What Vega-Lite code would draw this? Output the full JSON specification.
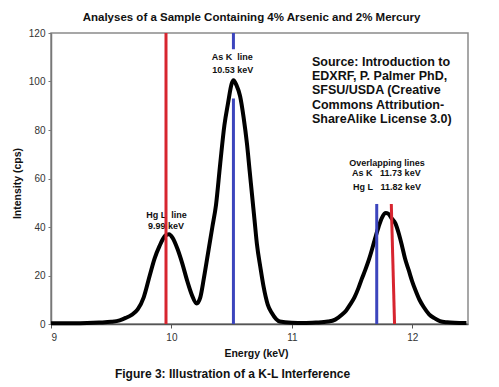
{
  "$schema": "https://vega.github.io/schema/vega-lite/v6.json",
  "width": 417,
  "height": 291,
  "autosize": {"type": "none"},
  "padding": {"left": 51, "top": 33, "right": 31, "bottom": 63},
  "background": "white",
  "config": {
    "view": {"stroke": "#8a8a8a", "strokeWidth": 1.5},
    "font": "Liberation Sans"
  },
  "title": {
    "text": "Figure 3: Illustration of a K-L Interference",
    "orient": "bottom",
    "anchor": "middle",
    "frame": "group",
    "font": "Liberation Sans",
    "fontSize": 12,
    "fontWeight": "bold",
    "color": "#111111",
    "offset": 10,
    "dx": -27
  },
  "datasets": {
    "spectrum": [
      {"energy": 9.0, "intensity": 0.3},
      {"energy": 9.1, "intensity": 0.3},
      {"energy": 9.2, "intensity": 0.3},
      {"energy": 9.3, "intensity": 0.4},
      {"energy": 9.4, "intensity": 0.6},
      {"energy": 9.5, "intensity": 0.9},
      {"energy": 9.57, "intensity": 1.5},
      {"energy": 9.62, "intensity": 2.5},
      {"energy": 9.67, "intensity": 3.8},
      {"energy": 9.72, "intensity": 6},
      {"energy": 9.77, "intensity": 11},
      {"energy": 9.82, "intensity": 20},
      {"energy": 9.86, "intensity": 27},
      {"energy": 9.9, "intensity": 32},
      {"energy": 9.95, "intensity": 36.5},
      {"energy": 9.98, "intensity": 37},
      {"energy": 10.01, "intensity": 35.5},
      {"energy": 10.05, "intensity": 31},
      {"energy": 10.09, "intensity": 25},
      {"energy": 10.13, "intensity": 18},
      {"energy": 10.17, "intensity": 12},
      {"energy": 10.21, "intensity": 8.5},
      {"energy": 10.24, "intensity": 11},
      {"energy": 10.27, "intensity": 19},
      {"energy": 10.31, "intensity": 31},
      {"energy": 10.34, "intensity": 40},
      {"energy": 10.37, "intensity": 49},
      {"energy": 10.405, "intensity": 66},
      {"energy": 10.44, "intensity": 82},
      {"energy": 10.47, "intensity": 91},
      {"energy": 10.5, "intensity": 99},
      {"energy": 10.515, "intensity": 100.5},
      {"energy": 10.54, "intensity": 98.5},
      {"energy": 10.57, "intensity": 94},
      {"energy": 10.6, "intensity": 85},
      {"energy": 10.627, "intensity": 74.5},
      {"energy": 10.65, "intensity": 63},
      {"energy": 10.67, "intensity": 53},
      {"energy": 10.69, "intensity": 43},
      {"energy": 10.71, "intensity": 33},
      {"energy": 10.74, "intensity": 23},
      {"energy": 10.765, "intensity": 15.5},
      {"energy": 10.8, "intensity": 8},
      {"energy": 10.834, "intensity": 4.5},
      {"energy": 10.87, "intensity": 2},
      {"energy": 10.9, "intensity": 1},
      {"energy": 11.0, "intensity": 0.5},
      {"energy": 11.1, "intensity": 0.4},
      {"energy": 11.2, "intensity": 0.6},
      {"energy": 11.3, "intensity": 1},
      {"energy": 11.36, "intensity": 1.8},
      {"energy": 11.415, "intensity": 3.8},
      {"energy": 11.45, "intensity": 5.5},
      {"energy": 11.484, "intensity": 8},
      {"energy": 11.52, "intensity": 11},
      {"energy": 11.553, "intensity": 14.8},
      {"energy": 11.58, "intensity": 18.5},
      {"energy": 11.61, "intensity": 22.3},
      {"energy": 11.64, "intensity": 26.5},
      {"energy": 11.665, "intensity": 30.6},
      {"energy": 11.69, "intensity": 35},
      {"energy": 11.72, "intensity": 40},
      {"energy": 11.75, "intensity": 44},
      {"energy": 11.78, "intensity": 45.8},
      {"energy": 11.8, "intensity": 45.5},
      {"energy": 11.83, "intensity": 43.5},
      {"energy": 11.86, "intensity": 41.5},
      {"energy": 11.89, "intensity": 37},
      {"energy": 11.916, "intensity": 32},
      {"energy": 11.94, "intensity": 27},
      {"energy": 11.97, "intensity": 22.3},
      {"energy": 12.0, "intensity": 17.5},
      {"energy": 12.026, "intensity": 14},
      {"energy": 12.06, "intensity": 10},
      {"energy": 12.095, "intensity": 7},
      {"energy": 12.14, "intensity": 4},
      {"energy": 12.18, "intensity": 2.5},
      {"energy": 12.23, "intensity": 1.2},
      {"energy": 12.29, "intensity": 0.7},
      {"energy": 12.35, "intensity": 0.5},
      {"energy": 12.45, "intensity": 0.4}
    ],
    "lines": [
      {"element": "Hg L", "energy": 9.955, "energy2": 9.955, "y1": 0, "y2": 120},
      {"element": "As K", "energy": 10.515, "energy2": 10.515, "y1": 113.3, "y2": 120},
      {"element": "As K", "energy": 10.515, "energy2": 10.515, "y1": 0, "y2": 93},
      {"element": "As K", "energy": 11.705, "energy2": 11.705, "y1": 0, "y2": 49.5},
      {"element": "Hg L", "energy": 11.853, "energy2": 11.826, "y1": 0, "y2": 49.5}
    ],
    "labels": [
      {"energy": 10.505, "intensity": 110.1, "label": "As K\u00a0 line"},
      {"energy": 10.51, "intensity": 104.7, "label": "10.53 keV"},
      {"energy": 9.96, "intensity": 45.0, "label": "Hg L\u00a0 line"},
      {"energy": 9.955, "intensity": 40.5, "label": "9.99 keV"},
      {"energy": 11.79, "intensity": 66.5, "label": "Overlapping lines"},
      {"energy": 11.785, "intensity": 62.1, "label": "As K\u00a0\u00a0 11.73 keV"},
      {"energy": 11.79, "intensity": 56.6, "label": "Hg L\u00a0\u00a0 11.82 keV"}
    ],
    "source": [
      {"energy": 11.167, "intensity": 108.1, "label": "Source: Introduction to"},
      {"energy": 11.167, "intensity": 102.2, "label": "EDXRF, P. Palmer PhD,"},
      {"energy": 11.167, "intensity": 96.4, "label": "SFSU/USDA (Creative"},
      {"energy": 11.167, "intensity": 90.5, "label": "Commons Attribution-"},
      {"energy": 11.167, "intensity": 84.4, "label": "ShareAlike License 3.0)"}
    ]
  },
  "resolve": {"axis": {"x": "independent"}},
  "layer": [
    {
      "data": {"name": "spectrum"},
      "mark": {"type": "line", "color": "#000000", "strokeWidth": 4, "interpolate": "monotone", "strokeJoin": "round"},
      "encoding": {
        "x": {
          "field": "energy", "type": "quantitative",
          "scale": {"domain": [9, 12.463], "nice": false, "zero": false},
          "axis": {
            "orient": "bottom",
            "values": [9, 10, 11, 12],
            "grid": false,
            "domainColor": "#555555", "domainWidth": 1.5,
            "tickColor": "#555555", "tickSize": 4,
            "labelFont": "Liberation Sans", "labelFontSize": 10, "labelColor": "#333333", "labelPadding": 4,
            "title": "Energy (keV)",
            "titleFont": "Liberation Sans", "titleFontSize": 10.5, "titleFontWeight": "bold", "titleColor": "#111111",
            "titleX": 205, "titleY": 29, "titleAlign": "center", "titleBaseline": "middle"
          }
        },
        "y": {
          "field": "intensity", "type": "quantitative",
          "scale": {"domain": [0, 120], "nice": false},
          "axis": {
            "values": [0, 20, 40, 60, 80, 100, 120],
            "grid": false,
            "domainColor": "#777777", "domainWidth": 1.5,
            "tickColor": "#777777", "tickSize": 3,
            "labelFont": "Liberation Sans", "labelFontSize": 10, "labelColor": "#333333", "labelPadding": 3,
            "title": "Intensity (cps)",
            "titleFont": "Liberation Sans", "titleFontSize": 10.5, "titleFontWeight": "bold", "titleColor": "#111111",
            "titleX": -34, "titleY": 150, "titleAngle": -90, "titleAlign": "center", "titleBaseline": "middle"
          }
        }
      }
    },
    {
      "data": {"name": "labels"},
      "mark": {"type": "text", "font": "Liberation Sans", "fontSize": 9, "fontWeight": "bold", "color": "#111111", "align": "center", "baseline": "middle"},
      "encoding": {
        "x": {"field": "energy", "type": "quantitative", "axis": null},
        "y": {"field": "intensity", "type": "quantitative"},
        "text": {"field": "label", "type": "nominal"}
      }
    },
    {
      "data": {"name": "source"},
      "mark": {"type": "text", "font": "Liberation Sans", "fontSize": 12.5, "fontWeight": "bold", "color": "#111111", "align": "left", "baseline": "middle"},
      "encoding": {
        "x": {"field": "energy", "type": "quantitative", "axis": null},
        "y": {"field": "intensity", "type": "quantitative"},
        "text": {"field": "label", "type": "nominal"}
      }
    },
    {
      "data": {"name": "lines"},
      "mark": {"type": "rule", "strokeWidth": 3},
      "encoding": {
        "x": {
          "field": "energy", "type": "quantitative",
          "axis": {
            "orient": "top", "labels": false, "ticks": false, "domain": false, "grid": false,
            "title": "Analyses of a Sample Containing 4% Arsenic and 2% Mercury",
            "titleFont": "Liberation Sans", "titleFontSize": 11.5, "titleFontWeight": "bold", "titleColor": "#111111",
            "titleX": 200, "titleY": -16, "titleAlign": "center", "titleBaseline": "middle"
          }
        },
        "x2": {"field": "energy2"},
        "y": {"field": "y1", "type": "quantitative"},
        "y2": {"field": "y2"},
        "color": {
          "field": "element", "type": "nominal",
          "scale": {"domain": ["Hg L", "As K"], "range": ["#d7252f", "#3c45bd"]},
          "legend": null
        }
      }
    }
  ]
}
